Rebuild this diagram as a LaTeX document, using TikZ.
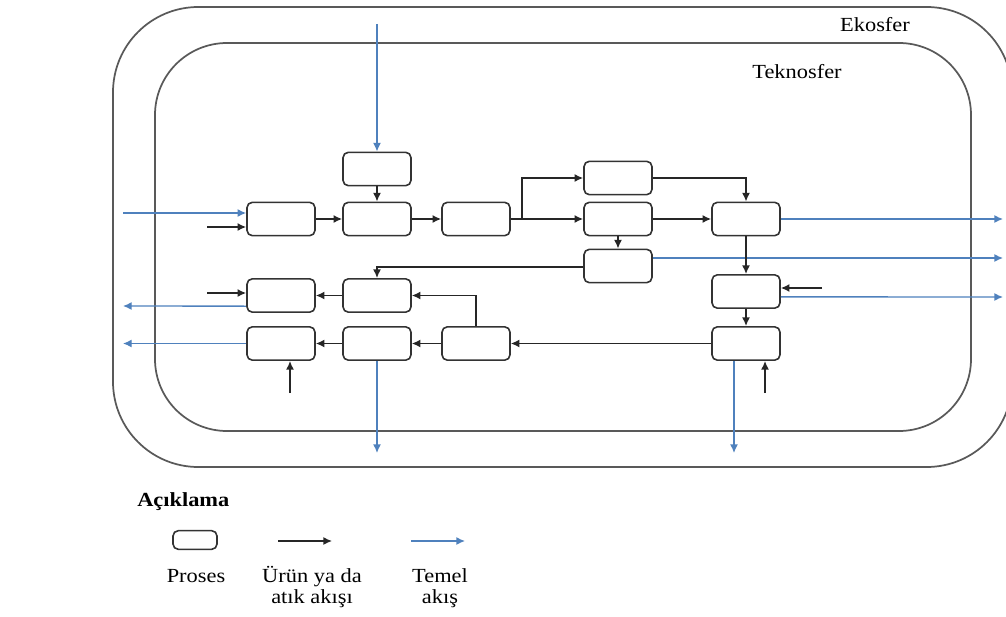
\documentclass[tikz,border=0pt]{standalone}
\usepackage{fontspec}
\setmainfont{Liberation Serif}[FakeStretch=1.12]
\usetikzlibrary{arrows.meta}
\definecolor{flowblue}{RGB}{79,129,189}
\begin{document}
\begin{tikzpicture}[x=0.75pt,y=-0.75pt,
 proc/.style={draw=black!80,line width=1.2pt,rounded corners=4pt,minimum width=51pt,minimum height=25pt,inner sep=0pt,fill=white},
 prod/.style={draw=black!85,line width=1.1pt,-{Latex[length=6.5pt,width=6pt]}},
 basic/.style={draw=flowblue,line width=1pt,-{Latex[length=6.5pt,width=6pt]}},
 sphere/.style={draw=black!65,line width=1.3pt},
 lbl/.style={font=\fontsize{15}{16}\selectfont,inner sep=0pt,align=center}]
\useasboundingbox (0,0) rectangle (1006,617);
% spheres
\draw[sphere,rounded corners=64pt] (113,7) rectangle (1012,467);
\draw[sphere,rounded corners=54pt] (155,43) rectangle (971,431);
\node[lbl] (eko) at (875,25) {Ekosfer};
\node[lbl] (tekno) at (797,72) {Teknosfer};
% processes
\node[proc] (A) at (377,169) {};
\node[proc] (B1) at (281,219) {};
\node[proc] (B2) at (377,219) {};
\node[proc] (B3) at (476,219) {};
\node[proc] (Ct) at (618,178) {};
\node[proc] (Cm) at (618,219) {};
\node[proc] (Cb) at (618,266) {};
\node[proc] (D) at (746,219) {};
\node[proc] (E) at (746,291.5) {};
\node[proc] (F) at (746,343.5) {};
\node[proc] (G1) at (281,295.5) {};
\node[proc] (G2) at (377,295.5) {};
\node[proc] (H1) at (281,343.5) {};
\node[proc] (H2) at (377,343.5) {};
\node[proc] (H3) at (476,343.5) {};
% free ends
\coordinate (inA) at (377,24);
\coordinate (inB1b) at (123,213);
\coordinate (inB1k) at (207,227);
\coordinate (outCb) at (1003,258);
\coordinate (outD) at (1003,219);
\coordinate (inE) at (822,288);
\coordinate (outE) at (1003,297);
\coordinate (outF) at (734,453);
\coordinate (inF) at (765,393);
\coordinate (inG1) at (207,293);
\coordinate (outG1) at (123,306);
\coordinate (outH1) at (123,343.5);
\coordinate (inH1) at (290,393);
\coordinate (outH2) at (377,453);
% basic flows
\draw[basic] (inA) -- (A.north);
\draw[basic] (inB1b) -- (inB1b -| B1.west);
\draw[basic] ([yshift=6pt]Cb.east) -- (outCb);
\draw[basic] (D.east) -- (outD);
\draw[basic] ([yshift=-4pt]E.east) -- (outE);
\draw[basic] (outF |- F.south) -- (outF);
\draw[basic] ([yshift=-8pt]G1.west) -- (outG1);
\draw[basic] (H1.west) -- (outH1);
\draw[basic] (H2.south) -- (outH2);
% product flows
\draw[prod] (inB1k) -- (inB1k -| B1.west);
\draw[prod] (A) -- (B2);
\draw[prod] (B1) -- (B2);
\draw[prod] (B2) -- (B3);
\draw[prod] (B3) -- (Cm);
\draw[prod] (B3.east) -- ++(11,0) |- (Ct.west);
\draw[prod] (Ct.east) -| (D.north);
\draw[prod] (Cm) -- (D);
\draw[prod] (Cm) -- (Cb);
\draw[prod] ([yshift=-0.75pt]Cb.west) -| (G2.north);
\draw[prod] (D) -- (E);
\draw[prod] (E) -- (F);
\draw[prod] (inE) -- (inE -| E.east);
\draw[prod] (inF) -- (inF |- F.south);
\draw[prod] (F) -- (H3);
\draw[prod] (H3) -- (H2);
\draw[prod] (H2) -- (H1);
\draw[prod] (H3.north) |- (G2.east);
\draw[prod] (G2) -- (G1);
\draw[prod] (inG1) -- (inG1 -| G1.west);
\draw[prod] (inH1) -- (inH1 |- H1.south);
% legend
\node[lbl,font=\fontsize{15}{16}\selectfont\bfseries,anchor=west] (acik) at (137,502) {Açıklama};
\node[proc,minimum width=33pt,minimum height=14pt] (lp) at (195,540) {};
\coordinate (lk1) at (278,541);
\coordinate (lk2) at (332,541);
\coordinate (lb1) at (411,541);
\coordinate (lb2) at (465,541);
\draw[prod,line width=1pt] (lk1) -- (lk2);
\draw[basic] (lb1) -- (lb2);
\node[lbl] (tp) at (196,576) {Proses};
\node[lbl] (tk) at (312,587) {Ürün ya da\\atık akışı};
\node[lbl] (tb) at (440,588) {Temel\\akış};
\end{tikzpicture}
\end{document}
